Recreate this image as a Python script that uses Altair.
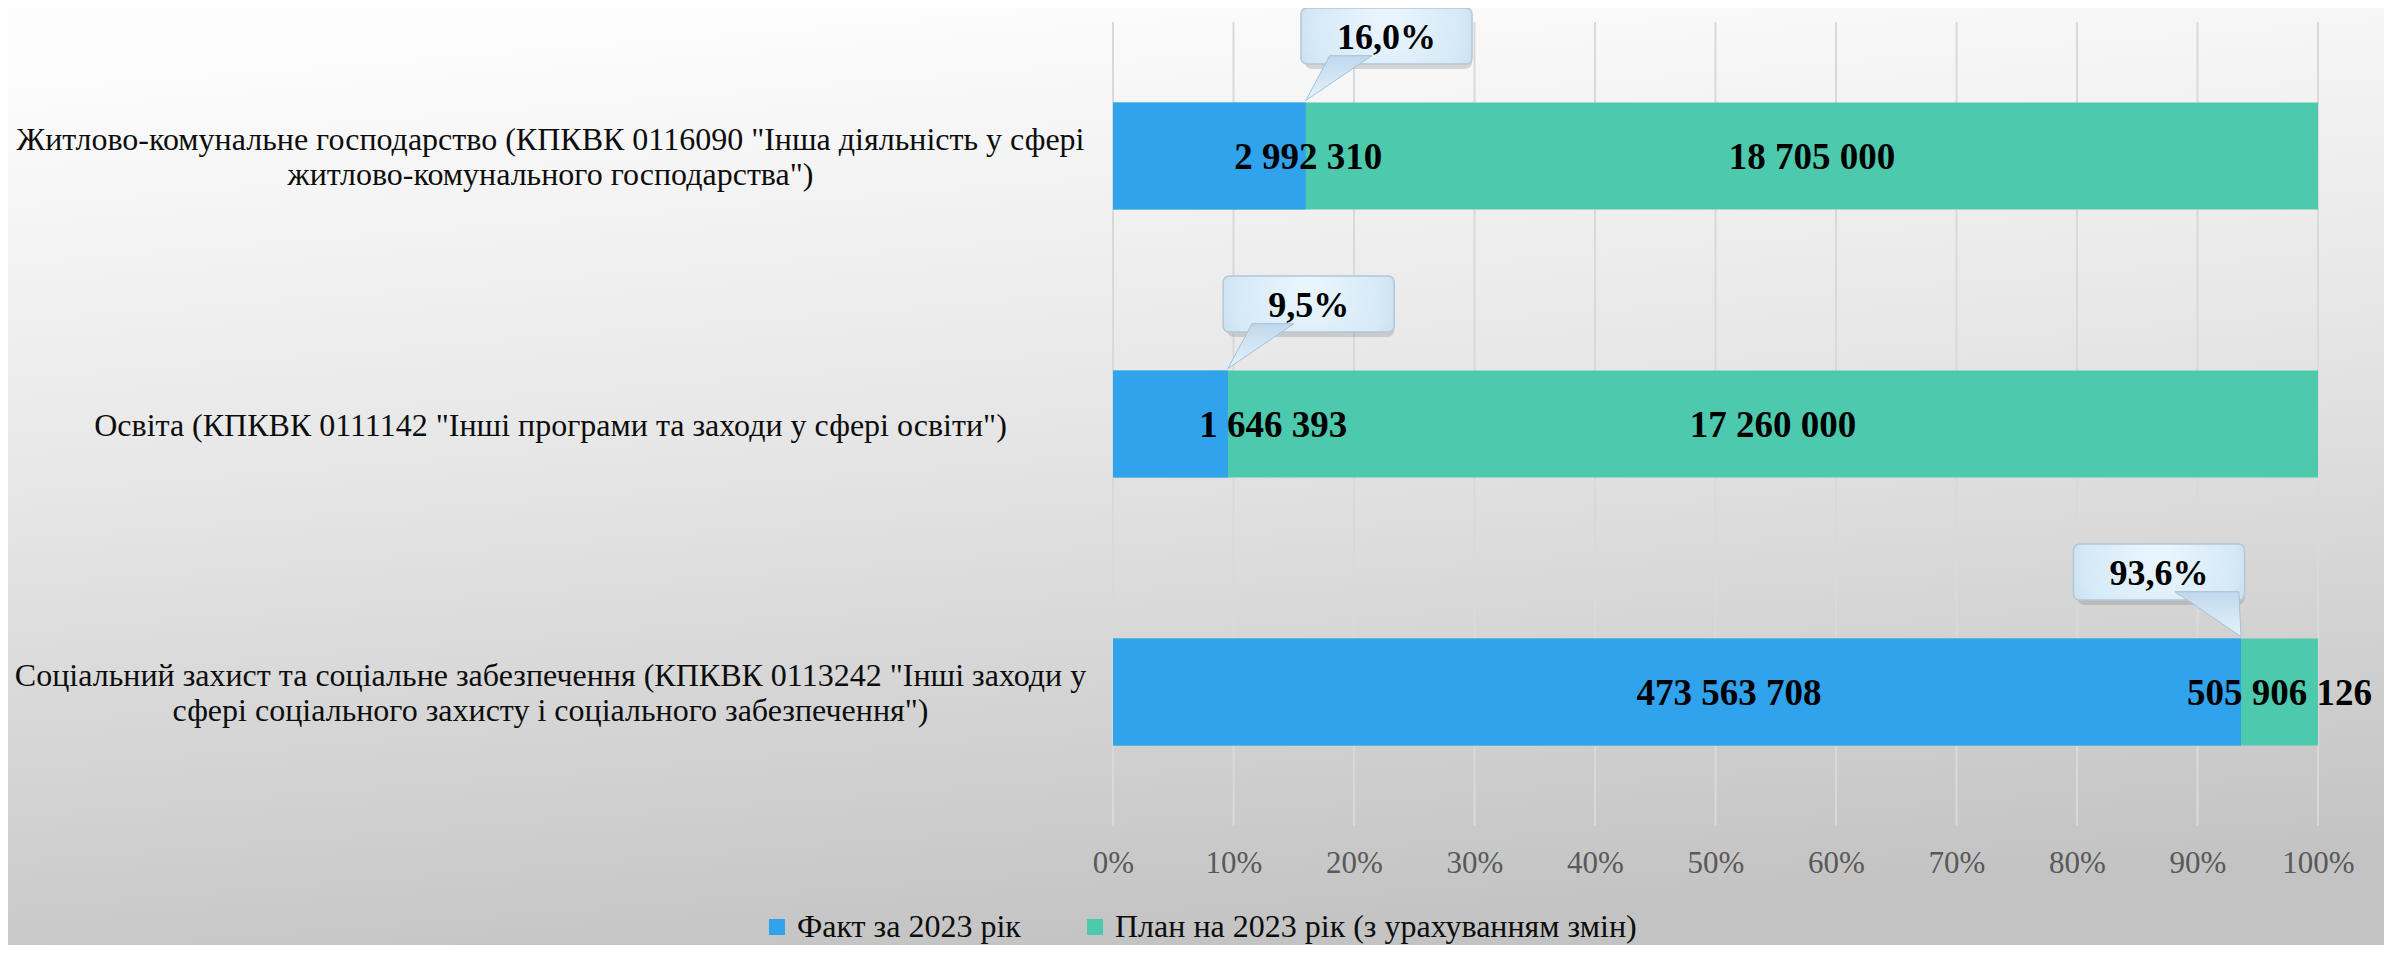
import altair as alt
import pandas as pd

# ---- data ----
categories = [
    'Житлово-комунальне господарство (КПКВК 0116090 "Інша діяльність у сфері\nжитлово-комунального господарства")',
    'Освіта (КПКВК 0111142 "Інші програми та заходи у сфері освіти")',
    'Соціальний захист та соціальне забезпечення (КПКВК 0113242 "Інші заходи у\nсфері соціального захисту і соціального забезпечення")',
]
fact_values = [2992310, 1646393, 473563708]
plan_values = [18705000, 17260000, 505906126]
series_names = ["Факт за 2023 рік", "План на 2023 рік (з урахуванням змін)"]
callout_side = ["right", "right", "left"]
tick_values = [0, 0.1, 0.2, 0.3, 0.4, 0.5, 0.6, 0.7, 0.8, 0.9, 1.0]

FONT = "Liberation Serif"
BLUE = "#30A3EC"
GREEN = "#4DCAAE"


def fmt_num(v):
    return f"{v:,}".replace(",", " ")


rows = []
for c, f, p in zip(categories, fact_values, plan_values):
    rows.append({"cat": c, "series": series_names[1], "val": 1.0})
for c, f, p in zip(categories, fact_values, plan_values):
    rows.append({"cat": c, "series": series_names[0], "val": f / p})
bars_df = pd.DataFrame(rows)

info_df = pd.DataFrame({
    "cat": categories,
    "r": [f / p for f, p in zip(fact_values, plan_values)],
    "fact_txt": [fmt_num(v) for v in fact_values],
    "plan_txt": [fmt_num(v) for v in plan_values],
    "pct_txt": [f"{f / p * 100:.1f}%".replace(".", ",") for f, p in zip(fact_values, plan_values)],
    "side": callout_side,
})

grid_df = pd.DataFrame({"t": tick_values})

W, H = 1205, 804
PAD = {"left": 1105, "top": 14, "right": 66, "bottom": 119}

y_enc = alt.Y(
    "cat:N",
    sort=categories,
    scale=alt.Scale(paddingInner=0.6, paddingOuter=0.3),
    axis=alt.Axis(
        title=None, domain=False, ticks=False, tickSize=0, grid=False, zindex=1,
        labelAlign="center", labelBaseline="middle", labelPadding=563,
        labelLimit=3000, labelFont=FONT, labelFontSize=32, labelColor="#0d0d0d",
        labelLineHeight=35, labelExpr="split(datum.label, '\\n')",
        labelOffset={"condition": {"test": "indexof(datum.label, '\\n') >= 0", "value": -16}, "value": 2},
    ),
)

x_scale = alt.Scale(domain=[0, 1], nice=False, zero=True)
x_axis = alt.Axis(
    title=None, values=tick_values, format=".0%", grid=False, zindex=1,
    domain=False, ticks=False, tickSize=0, labelFlush=False,
    labelFont=FONT, labelFontSize=31, labelColor="#595959", labelPadding=22,
)

bg_gradient = {
    "gradient": "linear",
    "x1": 0.3, "y1": 0, "x2": 0.5, "y2": 1,
    "stops": [
        {"offset": 0, "color": "#fdfdfd"},
        {"offset": 0.45, "color": "#e6e6e6"},
        {"offset": 1, "color": "#c3c3c3"},
    ],
}

background = alt.Chart(pd.DataFrame({"k": [0]})).mark_rect(color=bg_gradient).encode(
    x=alt.value(-PAD["left"]),
    x2=alt.value(W + PAD["right"]),
    y=alt.value(-PAD["top"]),
    y2=alt.value(H + PAD["bottom"]),
)

grid = alt.Chart(grid_df).mark_rule(color="#d9d9d9", strokeWidth=2).encode(
    x=alt.X("t:Q", scale=x_scale, axis=x_axis),
    y=alt.value(0),
    y2=alt.value(H),
)

bars = alt.Chart(bars_df).mark_bar().encode(
    x=alt.X("val:Q", scale=x_scale, axis=x_axis, stack=None),
    y=y_enc,
    color=alt.Color(
        "series:N",
        scale=alt.Scale(domain=series_names, range=[BLUE, GREEN]),
        legend=alt.Legend(
            orient="none", legendX=-352, legendY=889, direction="horizontal",
            title=None, symbolType="square", symbolSize=256, symbolStrokeWidth=0,
            symbolOpacity=1, labelFont=FONT, labelFontSize=32, labelColor="#0d0d0d",
            labelOffset=4, columnPadding=58, padding=0, labelLimit=1000,
        ),
    ),
)

base_info = alt.Chart(info_df).transform_calculate(
    box_l="datum.side == 'left' ? datum.r - 0.139 : datum.r - 0.004",
).transform_calculate(
    box_r="datum.box_l + 0.142",
    box_c="datum.box_l + 0.071",
    fact_pos="0.45 * datum.r + 0.09",
    plan_pos="(1 + datum.r) / 2",
)

BOX_OFF = -120
shadow = base_info.mark_bar(
    size=58, yOffset=BOX_OFF + 4, xOffset=4, cornerRadius=7, color="#6f6f6f", opacity=0.25
).encode(x="box_l:Q", x2="box_r:Q", y=alt.Y("cat:N", sort=categories))

box_gradient = {
    "gradient": "radial",
    "x1": 0.5, "y1": 0.4, "r1": 0.05,
    "x2": 0.5, "y2": 0.5, "r2": 0.75,
    "stops": [
        {"offset": 0, "color": "#e9f5fd"},
        {"offset": 0.55, "color": "#d5e9f7"},
        {"offset": 1, "color": "#b7cfe0"},
    ],
}
boxes = base_info.mark_bar(
    size=56, yOffset=BOX_OFF, cornerRadius=6, color=box_gradient,
    stroke="#b0c8da", strokeWidth=1.5,
).encode(x="box_l:Q", x2="box_r:Q", y=alt.Y("cat:N", sort=categories))

path_right = "M0,0 L0.6,-1.12 L1.65,-1.12 Z"
path_left = "M0,0 L-1.65,-1.12 L-0.05,-1.12 Z"
ptr_gradient = {
    "gradient": "linear", "x1": 0, "y1": 0, "x2": 0, "y2": 1,
    "stops": [
        {"offset": 0, "color": "#bfd8ec"},
        {"offset": 1, "color": "#e6f3fc"},
    ],
}
pointers = base_info.mark_point(
    filled=True, size=6400, opacity=1, yOffset=-55.5, fill=ptr_gradient,
    stroke="#a6c1d6", strokeWidth=1,
).encode(
    x="r:Q",
    y=alt.Y("cat:N", sort=categories),
    shape=alt.Shape("side:N", scale=alt.Scale(domain=["right", "left"], range=[path_right, path_left]), legend=None),
)

box_text = base_info.mark_text(
    font=FONT, fontWeight="bold", fontSize=36, color="#000000",
    baseline="middle", align="center", yOffset=BOX_OFF + 2,
).encode(x="box_c:Q", y=alt.Y("cat:N", sort=categories), text="pct_txt:N")

fact_text = base_info.mark_text(
    font=FONT, fontWeight="bold", fontSize=37, color="#000000",
    baseline="middle", align="center", yOffset=2,
).encode(x="fact_pos:Q", y=alt.Y("cat:N", sort=categories), text="fact_txt:N")

plan_text = base_info.mark_text(
    font=FONT, fontWeight="bold", fontSize=37, color="#000000",
    baseline="middle", align="center", yOffset=2,
).encode(x="plan_pos:Q", y=alt.Y("cat:N", sort=categories), text="plan_txt:N")

chart = alt.layer(
    background, grid, bars, shadow, boxes, pointers, box_text, fact_text, plan_text
).properties(
    width=W, height=H, padding=PAD, autosize=alt.AutoSizeParams(type="none"),
    background="#ffffff",
).configure_view(strokeWidth=0)

chart.save("out.html", embed_options={"renderer": "svg", "actions": False})
